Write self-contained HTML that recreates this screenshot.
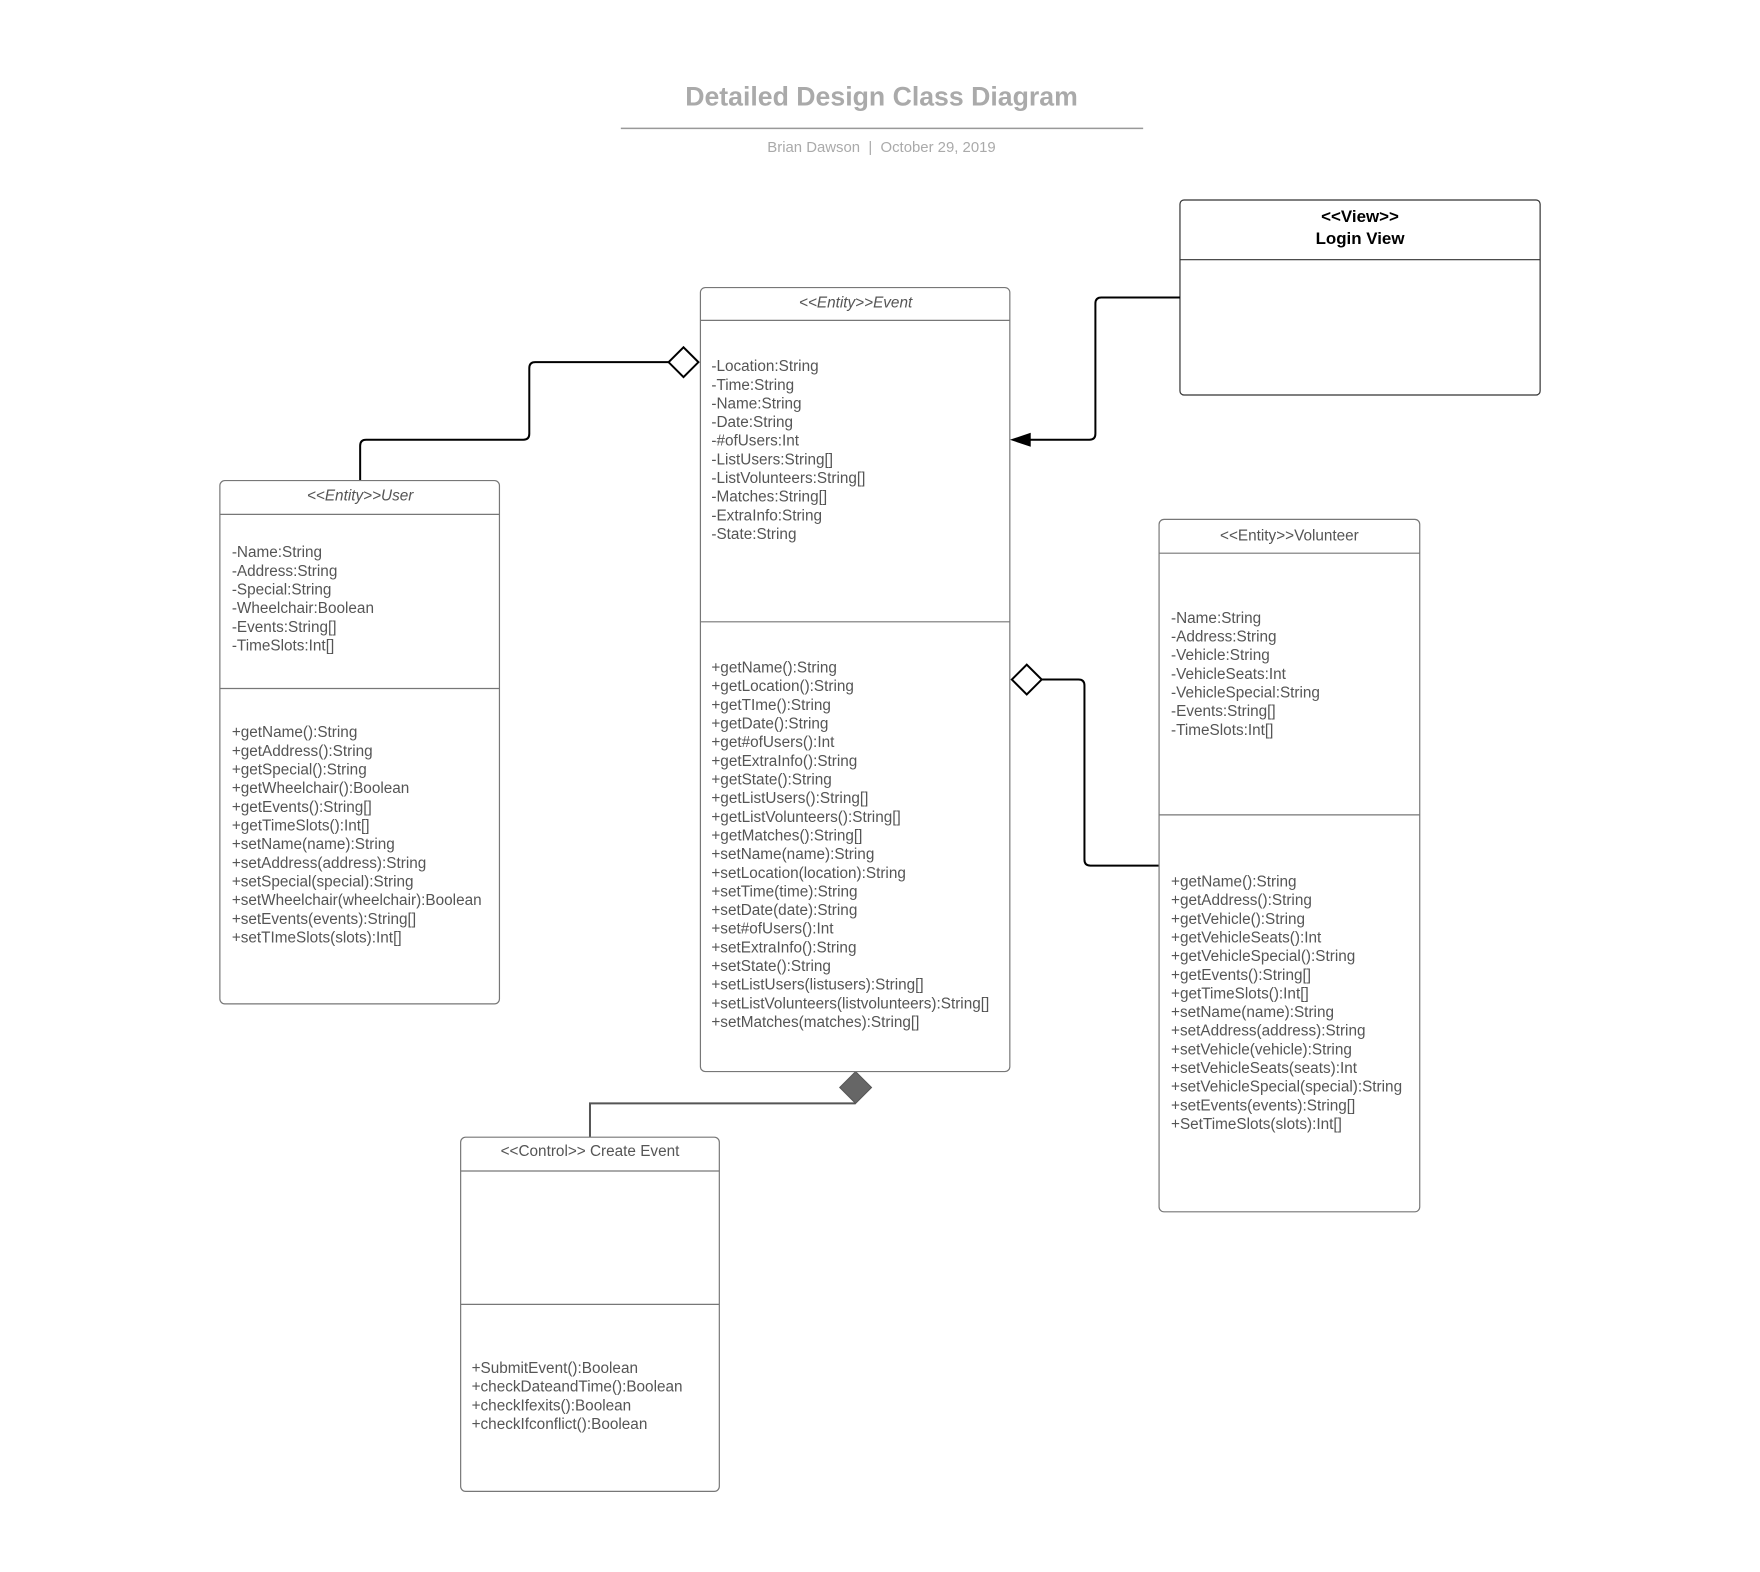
<!DOCTYPE html>
<html><head><meta charset="utf-8"><style>
html,body{margin:0;padding:0;background:#fff;}
svg{display:block;}
text{font-family:"Liberation Sans",sans-serif;}
.t{font-size:15.4px;fill:#555;}
.b{fill:#fff;stroke:#777;stroke-width:1.2;}
.d{stroke:#777;stroke-width:1.2;}
.c{fill:none;stroke:#000;stroke-width:2;}
</style></head><body>
<svg width="1760" height="1572" viewBox="0 0 1769 1580" xmlns="http://www.w3.org/2000/svg">
<text x="886" y="106" text-anchor="middle" style="font-size:26.8px;font-weight:bold;fill:#aaa">Detailed Design Class Diagram</text>
<line x1="624" y1="129" x2="1149" y2="129" stroke="#999" stroke-width="1.5"/>
<text x="886" y="153" text-anchor="middle" style="font-size:15px;fill:#aaa;white-space:pre" xml:space="preserve">Brian Dawson  |  October 29, 2019</text>

<!-- Login View -->
<rect class="b" x="1186" y="201" width="362" height="196" rx="4" style="stroke:#333"/>
<line x1="1186" y1="261" x2="1548" y2="261" stroke="#333" stroke-width="1.2"/>
<text x="1367" y="223" text-anchor="middle" style="font-size:17px;font-weight:bold;fill:#000">&lt;&lt;View&gt;&gt;</text>
<text x="1367" y="245" text-anchor="middle" style="font-size:17px;font-weight:bold;fill:#000">Login View</text>

<!-- connectors -->
<path class="c" d="M362 483 V448 Q362 442 368 442 H526 Q532 442 532 436 V370 Q532 364 538 364 H672"/>
<path d="M672 364 L687 349 L702 364 L687 379 Z" fill="#fff" stroke="#000" stroke-width="2"/>
<path class="c" d="M1186 299 H1107 Q1101 299 1101 305 V436 Q1101 442 1095 442 H1034"/>
<path d="M1015 442 L1036 435 L1036 449 Z" fill="#000"/>
<path class="c" d="M1047 683 H1084 Q1090 683 1090 689 V864 Q1090 870 1096 870 H1165"/>
<path d="M1017 683 L1032 668 L1047 683 L1032 698 Z" fill="#fff" stroke="#000" stroke-width="2"/>
<path d="M860 1109 H593 V1143" fill="none" stroke="#555" stroke-width="2"/>
<path d="M860 1077 L876 1093 L860 1109 L844 1093 Z" fill="#666" stroke="#555" stroke-width="1"/>

<!-- Event -->
<rect class="b" x="704" y="289" width="311" height="788" rx="5"/>
<line class="d" x1="704" y1="322" x2="1015" y2="322"/>
<line class="d" x1="704" y1="625" x2="1015" y2="625"/>
<text x="860" y="309" text-anchor="middle" class="t" style="font-style:italic">&lt;&lt;Entity&gt;&gt;Event</text>
<text class="t" x="715" y="373">
<tspan x="715">-Location:String</tspan><tspan x="715" dy="18.75">-Time:String</tspan><tspan x="715" dy="18.75">-Name:String</tspan><tspan x="715" dy="18.75">-Date:String</tspan><tspan x="715" dy="18.75">-#ofUsers:Int</tspan><tspan x="715" dy="18.75">-ListUsers:String[]</tspan><tspan x="715" dy="18.75">-ListVolunteers:String[]</tspan><tspan x="715" dy="18.75">-Matches:String[]</tspan><tspan x="715" dy="18.75">-ExtraInfo:String</tspan><tspan x="715" dy="18.75">-State:String</tspan>
</text>
<text class="t" x="715" y="676">
<tspan x="715">+getName():String</tspan><tspan x="715" dy="18.75">+getLocation():String</tspan><tspan x="715" dy="18.75">+getTIme():String</tspan><tspan x="715" dy="18.75">+getDate():String</tspan><tspan x="715" dy="18.75">+get#ofUsers():Int</tspan><tspan x="715" dy="18.75">+getExtraInfo():String</tspan><tspan x="715" dy="18.75">+getState():String</tspan><tspan x="715" dy="18.75">+getListUsers():String[]</tspan><tspan x="715" dy="18.75">+getListVolunteers():String[]</tspan><tspan x="715" dy="18.75">+getMatches():String[]</tspan><tspan x="715" dy="18.75">+setName(name):String</tspan><tspan x="715" dy="18.75">+setLocation(location):String</tspan><tspan x="715" dy="18.75">+setTime(time):String</tspan><tspan x="715" dy="18.75">+setDate(date):String</tspan><tspan x="715" dy="18.75">+set#ofUsers():Int</tspan><tspan x="715" dy="18.75">+setExtraInfo():String</tspan><tspan x="715" dy="18.75">+setState():String</tspan><tspan x="715" dy="18.75">+setListUsers(listusers):String[]</tspan><tspan x="715" dy="18.75">+setListVolunteers(listvolunteers):String[]</tspan><tspan x="715" dy="18.75">+setMatches(matches):String[]</tspan>
</text>

<!-- User -->
<rect class="b" x="221" y="483" width="281" height="526" rx="5"/>
<line class="d" x1="221" y1="517" x2="502" y2="517"/>
<line class="d" x1="221" y1="692" x2="502" y2="692"/>
<text x="362" y="503" text-anchor="middle" class="t" style="font-style:italic">&lt;&lt;Entity&gt;&gt;User</text>
<text class="t" x="233" y="560">
<tspan x="233">-Name:String</tspan><tspan x="233" dy="18.75">-Address:String</tspan><tspan x="233" dy="18.75">-Special:String</tspan><tspan x="233" dy="18.75">-Wheelchair:Boolean</tspan><tspan x="233" dy="18.75">-Events:String[]</tspan><tspan x="233" dy="18.75">-TimeSlots:Int[]</tspan>
</text>
<text class="t" x="233" y="741">
<tspan x="233">+getName():String</tspan><tspan x="233" dy="18.75">+getAddress():String</tspan><tspan x="233" dy="18.75">+getSpecial():String</tspan><tspan x="233" dy="18.75">+getWheelchair():Boolean</tspan><tspan x="233" dy="18.75">+getEvents():String[]</tspan><tspan x="233" dy="18.75">+getTimeSlots():Int[]</tspan><tspan x="233" dy="18.75">+setName(name):String</tspan><tspan x="233" dy="18.75">+setAddress(address):String</tspan><tspan x="233" dy="18.75">+setSpecial(special):String</tspan><tspan x="233" dy="18.75">+setWheelchair(wheelchair):Boolean</tspan><tspan x="233" dy="18.75">+setEvents(events):String[]</tspan><tspan x="233" dy="18.75">+setTImeSlots(slots):Int[]</tspan>
</text>

<!-- Volunteer -->
<rect class="b" x="1165" y="522" width="262" height="696" rx="5"/>
<line class="d" x1="1165" y1="556" x2="1427" y2="556"/>
<line class="d" x1="1165" y1="819" x2="1427" y2="819"/>
<text x="1296" y="543" text-anchor="middle" class="t">&lt;&lt;Entity&gt;&gt;Volunteer</text>
<text class="t" x="1177" y="626">
<tspan x="1177">-Name:String</tspan><tspan x="1177" dy="18.75">-Address:String</tspan><tspan x="1177" dy="18.75">-Vehicle:String</tspan><tspan x="1177" dy="18.75">-VehicleSeats:Int</tspan><tspan x="1177" dy="18.75">-VehicleSpecial:String</tspan><tspan x="1177" dy="18.75">-Events:String[]</tspan><tspan x="1177" dy="18.75">-TimeSlots:Int[]</tspan>
</text>
<text class="t" x="1177" y="891">
<tspan x="1177">+getName():String</tspan><tspan x="1177" dy="18.75">+getAddress():String</tspan><tspan x="1177" dy="18.75">+getVehicle():String</tspan><tspan x="1177" dy="18.75">+getVehicleSeats():Int</tspan><tspan x="1177" dy="18.75">+getVehicleSpecial():String</tspan><tspan x="1177" dy="18.75">+getEvents():String[]</tspan><tspan x="1177" dy="18.75">+getTimeSlots():Int[]</tspan><tspan x="1177" dy="18.75">+setName(name):String</tspan><tspan x="1177" dy="18.75">+setAddress(address):String</tspan><tspan x="1177" dy="18.75">+setVehicle(vehicle):String</tspan><tspan x="1177" dy="18.75">+setVehicleSeats(seats):Int</tspan><tspan x="1177" dy="18.75">+setVehicleSpecial(special):String</tspan><tspan x="1177" dy="18.75">+setEvents(events):String[]</tspan><tspan x="1177" dy="18.75">+SetTimeSlots(slots):Int[]</tspan>
</text>

<!-- Create Event -->
<rect class="b" x="463" y="1143" width="260" height="356" rx="5"/>
<line class="d" x1="463" y1="1177" x2="723" y2="1177"/>
<line class="d" x1="463" y1="1311" x2="723" y2="1311"/>
<text x="593" y="1162" text-anchor="middle" class="t">&lt;&lt;Control&gt;&gt; Create Event</text>
<text class="t" x="474" y="1380">
<tspan x="474">+SubmitEvent():Boolean</tspan><tspan x="474" dy="18.75">+checkDateandTime():Boolean</tspan><tspan x="474" dy="18.75">+checkIfexits():Boolean</tspan><tspan x="474" dy="18.75">+checkIfconflict():Boolean</tspan>
</text>
</svg>
</body></html>
